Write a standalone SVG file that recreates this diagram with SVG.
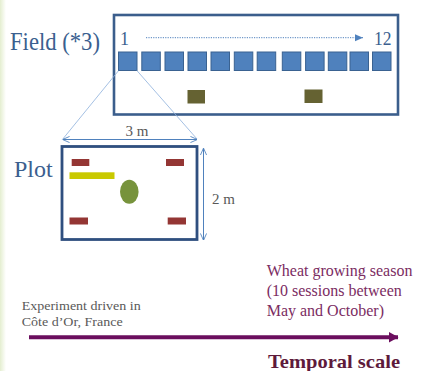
<svg xmlns="http://www.w3.org/2000/svg" width="422" height="371" viewBox="0 0 422 371">
<style>
text{font-family:"Liberation Serif","Times New Roman",serif}
.blue{fill:#3b5f8f}
.sq{fill:#4f81bd;stroke:#3a6291;stroke-width:1}
.red{fill:#943634}
.olive{fill:#656232}
.dim{stroke:#4f81bd;stroke-width:1;fill:none}
.conn{stroke:#8db0dc;stroke-width:0.8;fill:none}
</style>
<defs>
<linearGradient id="strip" x1="0" y1="0" x2="1" y2="0">
<stop offset="0" stop-color="#e4eed0"/>
<stop offset="1" stop-color="#ffffff"/>
</linearGradient>
<marker id="dimA" viewBox="0 0 8 8" refX="7.5" refY="4" markerWidth="7" markerHeight="7" orient="auto-start-reverse" markerUnits="userSpaceOnUse">
<path d="M0,0.5 L8,4 L0,7.5" fill="none" stroke="#4f81bd" stroke-width="1"/>
</marker>
<marker id="dotA" viewBox="0 0 8 8" refX="8" refY="4" markerWidth="8" markerHeight="8" orient="auto" markerUnits="userSpaceOnUse">
<path d="M0,0.5 L8,4 L0,7.5 Z" fill="#4f81bd"/>
</marker>
<marker id="purA" viewBox="0 0 10 11" refX="9.5" refY="5.5" markerWidth="10" markerHeight="11" orient="auto" markerUnits="userSpaceOnUse">
<path d="M0,0 L10,5.5 L0,11 Z" fill="#6b0e5e"/>
</marker>
</defs>
<rect x="0" y="0" width="422" height="371" fill="#ffffff"/>
<rect x="0" y="0" width="6" height="371" fill="url(#strip)"/>

<g id="field">
<rect x="114" y="15" width="284" height="99.5" fill="#ffffff" stroke="#3b5e8c" stroke-width="2.6"/>
<text class="blue" x="10" y="49.5" font-size="25" textLength="90" lengthAdjust="spacingAndGlyphs">Field (*3)</text>
<text class="blue" x="120" y="45" font-size="18">1</text>
<text class="blue" x="374" y="45" font-size="18" textLength="17.5" lengthAdjust="spacingAndGlyphs">12</text>
<g id="subplots">
<rect class="sq" x="118.5" y="52" width="18.5" height="18.5"/>
<rect class="sq" x="141.8" y="52" width="18.5" height="18.5"/>
<rect class="sq" x="165" y="52" width="18.5" height="18.5"/>
<rect class="sq" x="188" y="52" width="18.5" height="18.5"/>
<rect class="sq" x="211" y="52" width="18.5" height="18.5"/>
<rect class="sq" x="234.3" y="52" width="18.5" height="18.5"/>
<rect class="sq" x="257.2" y="52" width="18.5" height="18.5"/>
<rect class="sq" x="282.3" y="52" width="18.5" height="18.5"/>
<rect class="sq" x="305.6" y="52" width="18.5" height="18.5"/>
<rect class="sq" x="328.3" y="52" width="18.5" height="18.5"/>
<rect class="sq" x="350" y="52" width="18.5" height="18.5"/>
<rect class="sq" x="372.5" y="52" width="18.5" height="18.5"/>
</g>
<rect class="olive" x="187.5" y="90" width="17.5" height="13.5"/>
<rect class="olive" x="304.5" y="89.5" width="18" height="13.5"/>
</g>

<g id="plot">
<rect x="62" y="146.5" width="135" height="93" fill="#ffffff" stroke="#2f4f7f" stroke-width="2.8"/>
<text class="blue" x="14" y="177" font-size="24">Plot</text>
<rect class="red" x="71.7" y="159" width="17.6" height="7"/>
<rect class="red" x="166" y="159" width="18" height="7"/>
<rect class="red" x="69.5" y="217.5" width="18.5" height="7"/>
<rect class="red" x="167.7" y="217.5" width="18.3" height="7"/>
<rect x="69.5" y="172.3" width="45" height="6.7" fill="#c9c900"/>
<ellipse cx="129.3" cy="191.7" rx="9.3" ry="12" fill="#77933c"/>
<text x="137" y="136" font-size="15" fill="#595959" text-anchor="middle">3 m</text>
<text x="212" y="204" font-size="15" fill="#595959">2 m</text>
</g>

<g id="timeline">
<text x="21.7" y="310" font-size="12" fill="#595959" textLength="119" lengthAdjust="spacingAndGlyphs">Experiment driven in</text>
<text x="21.7" y="326" font-size="12" fill="#595959" textLength="101" lengthAdjust="spacingAndGlyphs">Côte d’Or, France</text>
<text x="266.7" y="275.5" font-size="16" fill="#7b2c62">Wheat growing season</text>
<text x="266.7" y="295.5" font-size="16" fill="#7b2c62">(10 sessions between</text>
<text x="266.7" y="315.5" font-size="16" fill="#7b2c62">May and October)</text>
<text x="268" y="367.7" font-size="19.5" font-weight="bold" fill="#5e1a3b" textLength="132" lengthAdjust="spacingAndGlyphs">Temporal scale</text>
</g>

<g id="connectors">
<line class="conn" x1="118.5" y1="70.7" x2="62" y2="140"/>
<line class="conn" x1="137" y1="70.7" x2="197" y2="139"/>
<line x1="146" y1="37.7" x2="363" y2="37.7" stroke="#4f81bd" stroke-width="1" stroke-dasharray="1.2,1.2" marker-end="url(#dotA)"/>
<line class="dim" x1="63" y1="139.5" x2="197" y2="139.5" marker-start="url(#dimA)" marker-end="url(#dimA)"/>
<line class="dim" x1="203.5" y1="148.5" x2="203.5" y2="240" marker-start="url(#dimA)" marker-end="url(#dimA)"/>
<line x1="29" y1="337.3" x2="398" y2="337.3" stroke="#6b0e5e" stroke-width="4" marker-end="url(#purA)"/>
</g>
</svg>
